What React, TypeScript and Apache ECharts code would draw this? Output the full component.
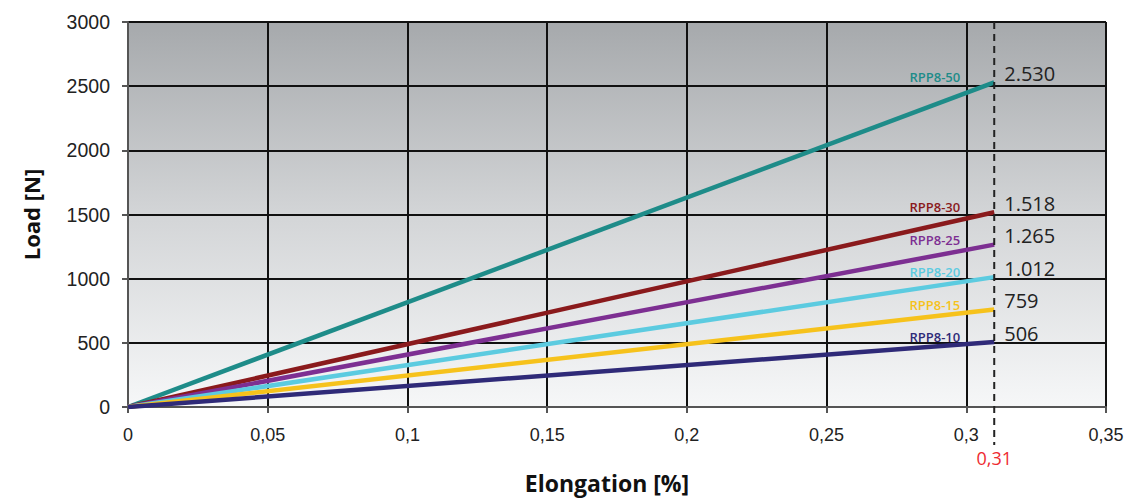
import React, { useEffect, useRef } from "react";
import * as echarts from "echarts";

const seriesNames = ["RPP8-50", "RPP8-30", "RPP8-25", "RPP8-20", "RPP8-15", "RPP8-10"];
const endElongation = 0.31;
const endLoads = [2530, 1518, 1265, 1012, 759, 506];
const seriesColors = ["#1e8c89", "#8a1a1c", "#7d2f92", "#5ccbe0", "#f6c21c", "#2f2a78"];
const xTicks = [0, 0.05, 0.1, 0.15, 0.2, 0.25, 0.3, 0.35];
const yTicks = [0, 500, 1000, 1500, 2000, 2500, 3000];

const fmtThousands = (v: number) => {
  const s = String(v);
  return s.length > 3 ? s.slice(0, s.length - 3) + "." + s.slice(s.length - 3) : s;
};

export default function App() {
  const ref = useRef<HTMLDivElement>(null);
  useEffect(() => {
    document.body.style.margin = "0";
    const chart = echarts.init(ref.current!, null, { renderer: "svg" });
    const series = seriesNames.map((name, i) => ({
      name,
      type: "line",
      symbol: "circle",
      symbolSize: 0,
      showSymbol: true,
      data: [
        [0, 0],
        {
          value: [endElongation, endLoads[i]],
          label: {
            show: true,
            position: "left",
            distance: 34,
            offset: [0, -5],
            formatter: name,
            color: seriesColors[i],
            fontFamily: "Open Sans",
            fontWeight: 600,
            fontSize: 13,
            letterSpacing: -0.8,
          },
        },
      ],
      lineStyle: { color: seriesColors[i], width: 4.5 },
      itemStyle: { color: seriesColors[i] },
      endLabel: {
        show: true,
        distance: 10,
        offset: [0, -9],
        formatter: () => fmtThousands(endLoads[i]),
        color: "#222",
        fontFamily: "Open Sans",
        fontSize: 20,
      },
      z: 3,
    }));
    chart.setOption({
      animation: false,
      grid: {
        left: 128,
        right: 26,
        top: 22,
        bottom: 91,
        show: true,
        borderWidth: 0,
        backgroundColor: new echarts.graphic.LinearGradient(0, 0, 0, 1, [
          { offset: 0, color: "#a6a9ac" },
          { offset: 0.5, color: "#d3d5d7" },
          { offset: 1, color: "#f6f7f8" },
        ]),
      },
      xAxis: {
        type: "value",
        min: xTicks[0],
        max: xTicks[xTicks.length - 1],
        interval: 0.05,
        name: "Elongation [%]",
        nameLocation: "middle",
        nameGap: 64,
        nameTextStyle: {
          fontFamily: "Open Sans",
          fontWeight: "bold",
          fontSize: 23,
          color: "#111",
          padding: [0, 20, 0, 0],
        },
        axisLine: { lineStyle: { color: "#555", width: 2 } },
        axisTick: { show: true, length: 6, lineStyle: { color: "#555", width: 2 } },
        axisLabel: {
          fontFamily: "Liberation Sans",
          fontSize: 18,
          color: "#222",
          margin: 19,
          formatter: (v: number) => String(Math.round(v * 100) / 100).replace(".", ","),
        },
        splitLine: { show: true, lineStyle: { color: "#111", width: 2 } },
      },
      yAxis: {
        type: "value",
        min: yTicks[0],
        max: yTicks[yTicks.length - 1],
        interval: 500,
        name: "Load [N]",
        nameLocation: "middle",
        nameGap: 86,
        nameTextStyle: { fontFamily: "Open Sans", fontWeight: "bold", fontSize: 22, color: "#111" },
        axisLine: { show: true, lineStyle: { color: "#555", width: 2 } },
        axisTick: { show: true, length: 6, lineStyle: { color: "#555", width: 2 } },
        axisLabel: {
          fontFamily: "Liberation Sans",
          fontSize: 19.5,
          color: "#222",
          margin: 18,
          formatter: (v: number) => String(v),
        },
        splitLine: { show: true, lineStyle: { color: "#111", width: 2 } },
      },
      series,
    });
    const px = chart.convertToPixel({ xAxisIndex: 0 }, endElongation) as number;
    const top = chart.convertToPixel({ yAxisIndex: 0 }, yTicks[yTicks.length - 1]) as number;
    const bottom = chart.convertToPixel({ yAxisIndex: 0 }, yTicks[0]) as number;
    chart.setOption({
      graphic: [
        {
          type: "line",
          z: 10,
          shape: { x1: px, y1: top, x2: px, y2: bottom + 38 },
          style: { stroke: "#222", lineWidth: 2, lineDash: [7, 5] },
        },
        {
          type: "text",
          z: 10,
          x: px,
          y: bottom + 51,
          style: {
            text: String(endElongation).replace(".", ","),
            fill: "#ee2a2f",
            fontFamily: "Open Sans",
            fontSize: 18,
            align: "center",
            verticalAlign: "middle",
          },
        },
      ],
    });
    return () => chart.dispose();
  }, []);
  return <div ref={ref} style={{ width: 1132, height: 499 }} />;
}
